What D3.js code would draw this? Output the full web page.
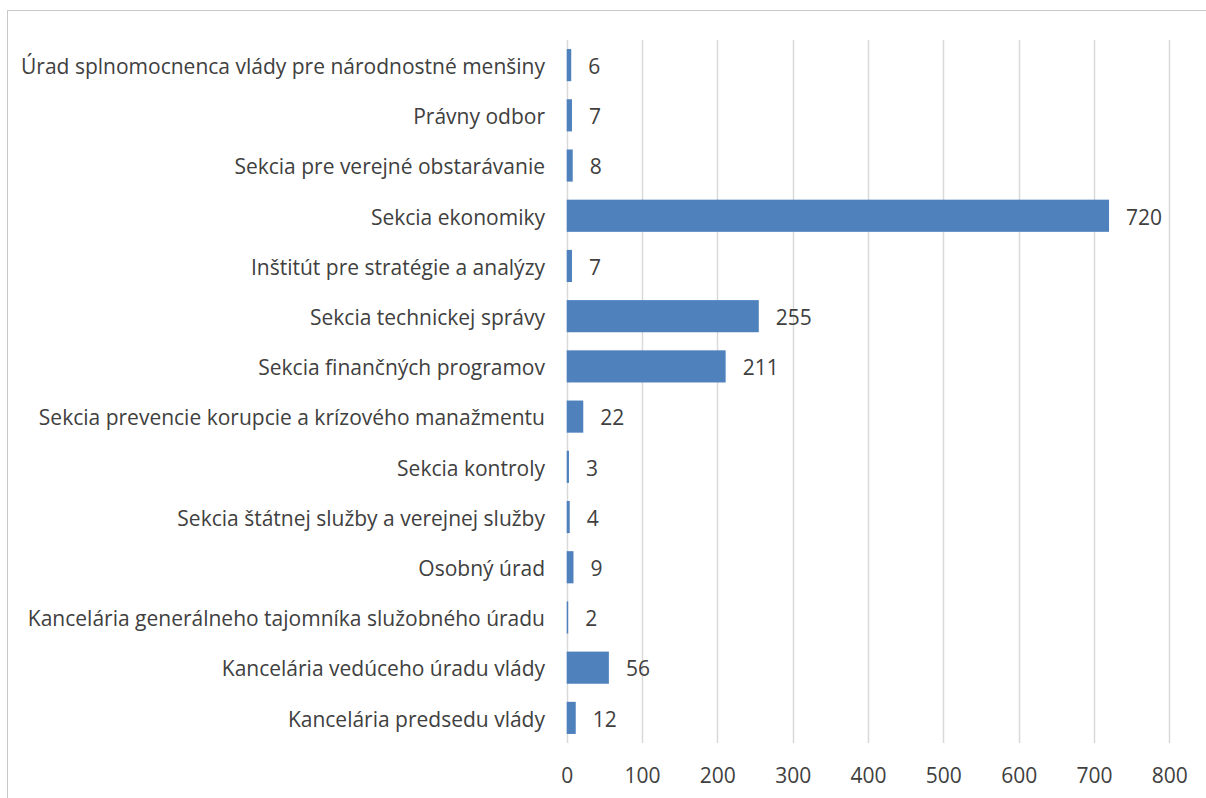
<!DOCTYPE html>
<html>
<head>
<meta charset="utf-8">
<script src="https://cdn.jsdelivr.net/npm/d3@7"></script>
<style>
  body { margin: 0; background: #fff; }
  svg text { font-family: "Open Sans", sans-serif; fill: #404040; }
</style>
</head>
<body>
<div class="container"></div>
<script>
// categories, top to bottom
const categories = [
  'Úrad splnomocnenca vlády pre národnostné menšiny',
  'Právny odbor',
  'Sekcia pre verejné obstarávanie',
  'Sekcia ekonomiky',
  'Inštitút pre stratégie a analýzy',
  'Sekcia technickej správy',
  'Sekcia finančných programov',
  'Sekcia prevencie korupcie a krízového manažmentu',
  'Sekcia kontroly',
  'Sekcia štátnej služby a verejnej služby',
  'Osobný úrad',
  'Kancelária generálneho tajomníka služobného úradu',
  'Kancelária vedúceho úradu vlády',
  'Kancelária predsedu vlády'
];
const values = [6, 7, 8, 720, 7, 255, 211, 22, 3, 4, 9, 2, 56, 12];
const xTicks = [0, 100, 200, 300, 400, 500, 600, 700, 800];

const W = 1206, H = 798;
const fontSize = '21px';
const svg = d3.select('.container')
  .append('svg')
  .attr('width', W)
  .attr('height', H);

// chart frame (runs off the right and bottom)
svg.append('rect')
  .attr('x', 7.5).attr('y', 10.5)
  .attr('width', W + 10).attr('height', H + 10)
  .attr('fill', 'none')
  .attr('stroke', '#c8c8c8')
  .attr('stroke-width', 1);

const x = d3.scaleLinear().domain([0, 800]).range([566.7, 1169.3]);
const y = d3.scaleBand().domain(categories).range([40, 743]).paddingInner(0.36).paddingOuter(0.18);

// gridlines
svg.append('g')
  .selectAll('line')
  .data(xTicks)
  .join('line')
  .attr('x1', d => Math.round(x(d)) + 0.5)
  .attr('x2', d => Math.round(x(d)) + 0.5)
  .attr('y1', 40).attr('y2', 743)
  .attr('stroke', '#d9d9d9')
  .attr('stroke-width', 1.5);

// bars
svg.append('g')
  .selectAll('rect')
  .data(values)
  .join('rect')
  .attr('x', x(0))
  .attr('y', (d, i) => y(categories[i]))
  .attr('width', d => x(d) - x(0))
  .attr('height', y.bandwidth())
  .attr('fill', '#4f81bd');

// value labels
svg.append('g')
  .selectAll('text')
  .data(values)
  .join('text')
  .attr('x', d => x(d) + 17)
  .attr('y', (d, i) => y(categories[i]) + y.bandwidth() / 2)
  .attr('dy', '0.42em')
  .style('font-size', fontSize)
  .text(d => d);

// category axis labels
svg.append('g')
  .selectAll('text')
  .data(categories)
  .join('text')
  .attr('x', 545)
  .attr('y', d => y(d) + y.bandwidth() / 2)
  .attr('dy', '0.42em')
  .attr('text-anchor', 'end')
  .style('font-size', fontSize)
  .text(d => d);

// x axis tick labels
const xAxis = d3.axisBottom(x).tickValues(xTicks).tickSize(0).tickPadding(0);
const gx = svg.append('g')
  .attr('transform', 'translate(0,775)')
  .call(xAxis);
gx.select('.domain').remove();
gx.selectAll('text')
  .attr('dy', '0.38em')
  .attr('y', 0)
  .style('font-size', fontSize)
  .style('font-family', '"Open Sans", sans-serif')
  .attr('fill', '#404040');
</script>
</body>
</html>
